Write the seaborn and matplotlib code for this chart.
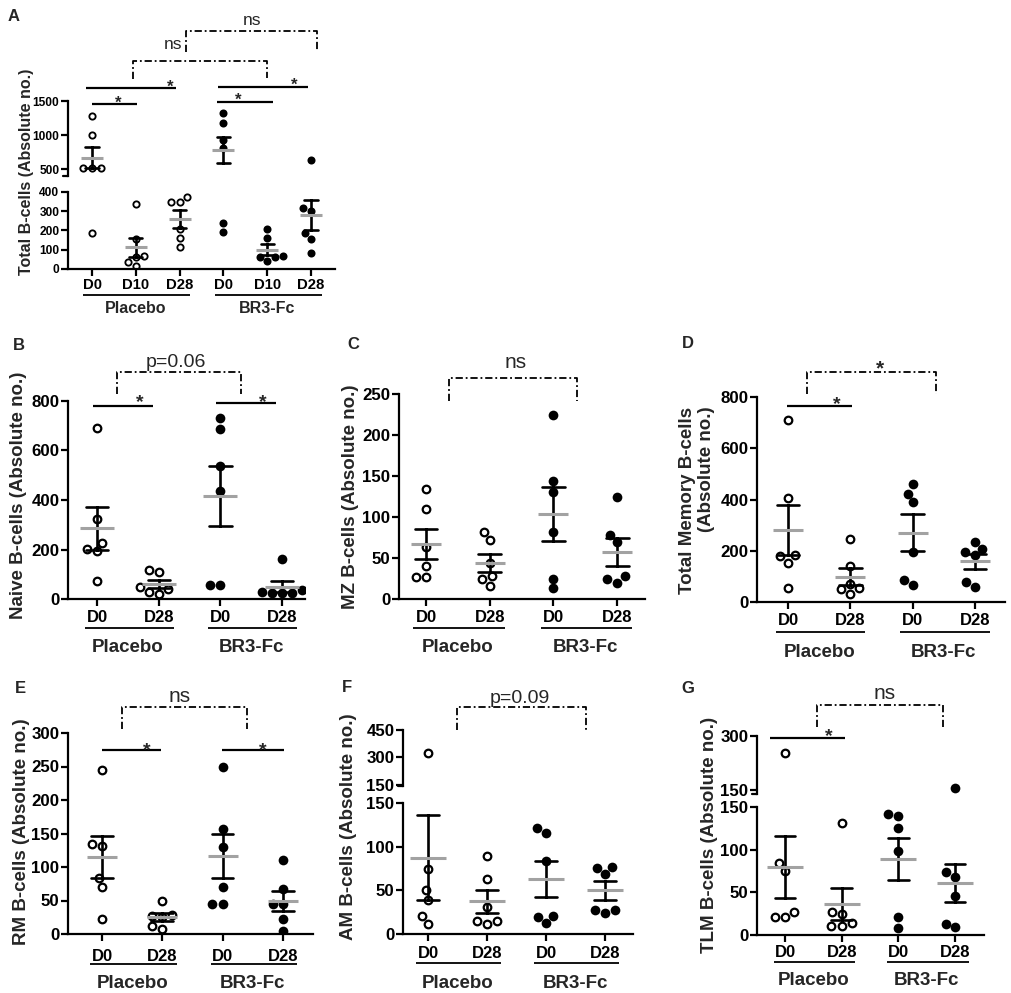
import numpy as np
import pandas as pd
import matplotlib
matplotlib.use("Agg")
import matplotlib.pyplot as plt
from matplotlib.transforms import Affine2D, blended_transform_factory
import seaborn as sns

# ------------------------------------------------------------------ data
GROUPS = ["Placebo", "BR3-Fc"]
DAYS_A = ["D0", "D10", "D28"]
DAYS = ["D0", "D28"]

A_PLACEBO = [[1273, 1007, 524, 515, 524, 188],
             [338, 156, 66, 62, 35, 18],
             [372, 350, 350, 209, 159, 112]]
A_BR3 = [[1176, 1331, 935, 814, 191, 239],
         [209, 161, 67, 60, 62, 41],
         [631, 303, 315, 186, 156, 85]]
B_PLACEBO = [[689, 324, 203, 193, 227, 74], [118, 108, 50, 40, 30, 20]]
B_BR3 = [[730, 686, 538, 436, 57, 57], [162, 35, 30, 25, 25, 23]]
C_PLACEBO = [[134, 110, 64, 40, 27, 27], [82, 72, 44, 28, 16, 24]]
C_BR3 = [[225, 144, 131, 82, 25, 13], [125, 78, 69, 28, 20, 24]]
D_PLACEBO = [[712, 406, 178, 153, 182, 56], [247, 140, 72, 55, 50, 33]]
D_BR3 = [[462, 423, 390, 195, 65, 87], [234, 195, 208, 182, 59, 78]]
E_PLACEBO = [[245, 131, 135, 84, 70, 22], [50, 28, 27, 25, 12, 8]]
E_BR3 = [[250, 156, 130, 70, 45, 45], [111, 67, 45, 45, 23, 4]]
F_PLACEBO = [[327, 74, 50, 39, 21, 12], [89, 63, 31, 15, 12, 15]]
F_BR3 = [[116, 121, 84, 21, 20, 13], [76, 69, 77, 27, 24, 27]]
G_PLACEBO = [[252, 84, 75, 27, 21, 21], [131, 27, 25, 14, 11, 11]]
G_BR3 = [[142, 140, 125, 99, 21, 8], [155, 68, 74, 46, 9, 13]]

A_TICKS_LO, A_TICKS_HI = [0, 100, 200, 300, 400], [500, 1000, 1500]
B_TICKS = [0, 200, 400, 600, 800]
C_TICKS = [0, 50, 100, 150, 200, 250]
D_TICKS = [0, 200, 400, 600, 800]
E_TICKS = [0, 50, 100, 150, 200, 250, 300]
F_TICKS_LO, F_TICKS_HI = [0, 50, 100, 150], [150, 300, 450]
G_TICKS_LO, G_TICKS_HI = [0, 50, 100, 150], [150, 300]

YLABELS = {"A": "Total B-cells (Absolute no.)",
           "B": "Naive B-cells (Absolute no.)",
           "C": "MZ B-cells (Absolute no.)",
           "D": "Total Memory B-cells\n(Absolute no.)",
           "E": "RM B-cells (Absolute no.)",
           "F": "AM B-cells (Absolute no.)",
           "G": "TLM B-cells (Absolute no.)"}

# ------------------------------------------------------------------ setup
sns.set_theme(style="ticks")
plt.rcParams["font.family"] = ["Liberation Sans", "DejaVu Sans"]
plt.rcParams["font.weight"] = "bold"

W, H = 1012, 993
fig = plt.figure(figsize=(W / 100, H / 100), dpi=100)
FIG_Y = Affine2D().scale(1, -1.0 / H).translate(0, 1) + fig.transFigure
FIG_PX = Affine2D().scale(1.0 / W, -1.0 / H).translate(0, 1) + fig.transFigure
PT2PX = 100 / 72.0


def long_df(placebo, br3, days):
    rows = []
    for grp, vals in (("Placebo", placebo), ("BR3-Fc", br3)):
        for day, v in zip(days, vals):
            for x in v:
                rows.append({"cond": f"{grp} {day}", "group": grp, "value": x})
    return pd.DataFrame(rows)


def px_ax(x0, x1, ytop, ybot):
    return fig.add_axes([x0 / W, 1 - ybot / H, (x1 - x0) / W, (ybot - ytop) / H])


def tr(ax):
    return blended_transform_factory(ax.transData, FIG_Y)


def draw_data(ax, df, order, lo, hi, ms, mean_w, cap, stats):
    sub = df[(df.value > lo) & (df.value <= hi)]
    pla = sub[sub.group == "Placebo"]
    br = sub[sub.group == "BR3-Fc"]
    if len(pla):
        sns.swarmplot(data=pla, x="cond", y="value", order=order, color="white",
                      edgecolor="black", linewidth=ms * 0.23, size=ms * 0.78,
                      ax=ax, zorder=2)
    if len(br):
        sns.swarmplot(data=br, x="cond", y="value", order=order, color="black",
                      size=ms, ax=ax, zorder=2)
    if stats:
        sns.pointplot(data=df, x="cond", y="value", order=order, errorbar="se",
                      capsize=cap, color="#a2a2a2", marker="_", markersize=mean_w,
                      markeredgewidth=2.2, linestyle="none",
                      err_kws={"color": "black", "linewidth": 1.9, "zorder": 3},
                      zorder=4, ax=ax)


def panel(P):
    df = long_df(P["placebo"], P["br3"], P["days"])
    order = [f"{g} {d}" for g in GROUPS for d in P["days"]]
    n = len(order)
    xl = ((P["x0"] - P["d0"]) / P["sp"], (P["x1"] - P["d0"]) / P["sp"])
    axes = []
    for k, seg in enumerate(P["segs"]):
        bottom = k == 0
        ax = px_ax(P["x0"], P["x1"], seg["ytop"], seg["ybot"])
        ax.set_facecolor("none")
        draw_data(ax, df, order, seg["lo"], seg["hi"], P["ms"], P["mean_w"], P["cap"], seg["stats"])
        for s in ("top", "right"):
            ax.spines[s].set_visible(False)
        for s in ("left", "bottom"):
            ax.spines[s].set_linewidth(1.6)
            ax.spines[s].set_color("black")
        ax.set_ylim(*seg["ylim"])
        ax.set_xlim(*xl)
        ax.set_yticks(seg["ticks"])
        ax.set_yticklabels([str(t) for t in seg["ticks"]], fontsize=P["yfs"], fontweight="bold")
        ax.tick_params(axis="y", direction="out", length=5, width=1.6, pad=1.2, colors="black")
        ax.set_xlabel("")
        ax.set_ylabel("")
        if bottom:
            ax.set_xticks(range(n))
            ax.set_xticklabels(P["days"] * 2, fontsize=P["xfs"], fontweight="bold")
            fs_px = P["xfs"] * PT2PX
            pad_px = P["xlab_c"] - 0.36 * fs_px - seg["ybot"] - 7
            ax.tick_params(axis="x", direction="out", length=5, width=1.6,
                           pad=pad_px / PT2PX, colors="black")
            t = tr(ax)
            nd = len(P["days"])
            gfs_px = P["gfs"] * PT2PX
            for gi, g in enumerate(GROUPS):
                a, b = gi * nd, gi * nd + nd - 1
                ax.plot([a - 0.2, b + 0.24], [P["uline"], P["uline"]], color="black",
                        lw=1.3, transform=t, clip_on=False, solid_capstyle="butt")
                ax.text((a + b) / 2, P["glab_c"] + 0.36 * gfs_px, g, transform=t,
                        ha="center", va="baseline", fontsize=P["gfs"], fontweight="bold")
        else:
            ax.spines["bottom"].set_visible(False)
            ax.tick_params(axis="x", bottom=False, labelbottom=False)
            ax.spines["left"].set_bounds(seg["ylim"][0], seg["ylim"][1])
            # small break hook at the bottom of the upper segment
            fig.add_artist(plt.Line2D([P["x0"] - 5, P["x0"]], [seg["ybot"], seg["ybot"]],
                                      transform=FIG_PX, color="black", lw=1.6))
        axes.append(ax)
    lx, ly, lfs = P["ylab"]
    fig.text(lx / W, 1 - ly / H, YLABELS[P["name"]], rotation=90, ha="center", va="center",
             fontsize=lfs, fontweight="bold", multialignment="right", linespacing=1.1)
    px, pb = P["letter"]
    fig.text(px / W, 1 - pb / H, P["name"], ha="left", va="baseline", fontsize=12,
             fontweight="bold")
    return axes


def sig(ax, x0, x1, ypx, sx, syc, fs):
    t = tr(ax)
    ax.plot([x0, x1], [ypx, ypx], color="black", lw=1.6, transform=t, clip_on=False,
            solid_capstyle="butt")
    ax.text(sx, syc + 0.58 * fs * PT2PX, "*", transform=t, ha="center", va="baseline",
            fontsize=fs, fontweight="bold")


def bracket(ax, x0, x1, ytop, yl0, yl1, label, lx, lbase, fs, star=False):
    t = tr(ax)
    ax.plot([x0, x0, x1, x1], [yl0, ytop, ytop, yl1], color="black", lw=1.3,
            ls=(0, (4, 1.6, 1, 1.6)), transform=t, clip_on=False)
    if star:
        ax.text(lx, lbase + 0.58 * fs * PT2PX, label, transform=t, ha="center",
                va="baseline", fontsize=fs, fontweight="bold")
    else:
        ax.text(lx, lbase, label, transform=t, ha="center", va="baseline",
                fontsize=fs, fontweight="normal")


BIG = dict(ms=7.0, cap=0.36, yfs=12.2, xfs=12, gfs=13.5)

# ---------------- A
axA = panel(dict(name="A", placebo=A_PLACEBO, br3=A_BR3, days=DAYS_A,
                 x0=68, x1=335, d0=92, sp=43.8, ms=5.8, mean_w=16, cap=0.3,
                 yfs=8.6, xfs=10.7, gfs=11.5, xlab_c=283, uline=295, glab_c=307,
                 ylab=(27, 172, 11.5), letter=(8, 21),
                 segs=[dict(ytop=192, ybot=269, ylim=(0, 400), ticks=A_TICKS_LO,
                            lo=-1e9, hi=450, stats=True),
                       dict(ytop=101, ybot=176, ylim=(450 - 3.4 * 14.5, 1500), ticks=A_TICKS_HI,
                            lo=450, hi=1e9, stats=True)]))
a = axA[0]
sig(a, -0.14, 1.92, 88, 1.78, 82, 12)
sig(a, 0.0, 1.03, 104, 0.59, 98, 12)
sig(a, 2.88, 4.93, 87, 4.61, 80, 12)
sig(a, 2.85, 4.13, 102, 3.33, 95, 12)
bracket(a, 0.94, 4.0, 61, 79, 78, "ns", 1.85, 49, 12.5)
bracket(a, 2.15, 5.14, 31, 52, 50, "ns", 3.65, 25, 12.5)

# ---------------- B
axB = panel(dict(name="B", placebo=B_PLACEBO, br3=B_BR3, days=DAYS,
                 x0=68, x1=305, d0=97, sp=61.7, mean_w=24, xlab_c=616, uline=628,
                 glab_c=645, ylab=(19, 495, 13.5), letter=(13, 350),
                 segs=[dict(ytop=401, ybot=599, ylim=(0, 800), ticks=B_TICKS,
                            lo=-1e9, hi=1e9, stats=True)], **BIG))
b = axB[0]
sig(b, -0.06, 0.91, 406, 0.70, 396, 14)
sig(b, 1.93, 2.90, 403, 2.69, 396, 14)
bracket(b, 0.32, 2.33, 372, 394, 394, "p=0.06", 1.28, 367, 14)

# ---------------- C
axC = panel(dict(name="C", placebo=C_PLACEBO, br3=C_BR3, days=DAYS,
                 x0=399, x1=645, d0=426, sp=63.7, mean_w=21, xlab_c=616, uline=628,
                 glab_c=645, ylab=(351, 497, 13.5), letter=(347, 349),
                 segs=[dict(ytop=394, ybot=599, ylim=(0, 250), ticks=C_TICKS,
                            lo=-1e9, hi=1e9, stats=True)], **BIG))
bracket(axC[0], 0.36, 2.37, 378, 401, 401, "ns", 1.40, 368, 15)

# ---------------- D
axD = panel(dict(name="D", placebo=D_PLACEBO, br3=D_BR3, days=DAYS,
                 x0=757, x1=1005, d0=788, sp=62.3, mean_w=21, xlab_c=619, uline=632,
                 glab_c=650, ylab=(697, 500, 13.5), letter=(682, 348),
                 segs=[dict(ytop=397, ybot=602, ylim=(0, 800), ticks=D_TICKS,
                            lo=-1e9, hi=1e9, stats=True)], **BIG))
d = axD[0]
sig(d, -0.02, 1.03, 406, 0.79, 398, 14)
bracket(d, 0.30, 2.38, 372, 394, 394, "*", 1.48, 362, 15, star=True)

# ---------------- E
axE = panel(dict(name="E", placebo=E_PLACEBO, br3=E_BR3, days=DAYS,
                 x0=68, x1=313, d0=102, sp=60.3, mean_w=21, xlab_c=955, uline=964,
                 glab_c=981, ylab=(22, 832, 13.5), letter=(15, 693),
                 segs=[dict(ytop=733, ybot=934, ylim=(0, 300), ticks=E_TICKS,
                            lo=-1e9, hi=1e9, stats=True)], **BIG))
e = axE[0]
bracket(e, 0.33, 2.40, 707, 729, 729, "ns", 1.29, 702, 15)
sig(e, 0.0, 0.98, 750, 0.75, 744, 14)
sig(e, 1.99, 3.02, 750, 2.67, 744, 14)

# ---------------- F
axF = panel(dict(name="F", placebo=F_PLACEBO, br3=F_BR3, days=DAYS,
                 x0=403, x1=633, d0=428, sp=59, mean_w=26, xlab_c=952, uline=963,
                 glab_c=981, ylab=(349, 827, 13.5), letter=(342, 692),
                 segs=[dict(ytop=803, ybot=934, ylim=(0, 150), ticks=F_TICKS_LO,
                            lo=-1e9, hi=150, stats=True),
                       dict(ytop=730, ybot=786, ylim=(144.5, 450), ticks=F_TICKS_HI,
                            lo=150, hi=1e9, stats=False)], **BIG))
bracket(axF[0], 0.49, 2.68, 707, 730, 730, "p=0.09", 1.56, 703, 14)

# ---------------- G
axG = panel(dict(name="G", placebo=G_PLACEBO, br3=G_BR3, days=DAYS,
                 x0=757, x1=984, d0=785, sp=56.7, mean_w=26, xlab_c=951, uline=962,
                 glab_c=978, ylab=(710, 835, 13.5), letter=(681, 693),
                 segs=[dict(ytop=807, ybot=935, ylim=(0, 150), ticks=G_TICKS_LO,
                            lo=-1e9, hi=150, stats=True),
                       dict(ytop=736, ybot=794, ylim=(138.9, 300), ticks=G_TICKS_HI,
                            lo=150, hi=1e9, stats=False)], **BIG))
g = axG[0]
bracket(g, 0.56, 2.79, 705, 727, 727, "ns", 1.76, 699, 15)
sig(g, -0.26, 1.06, 738, 0.78, 730, 14)

fig.savefig("out.png", dpi=100)
